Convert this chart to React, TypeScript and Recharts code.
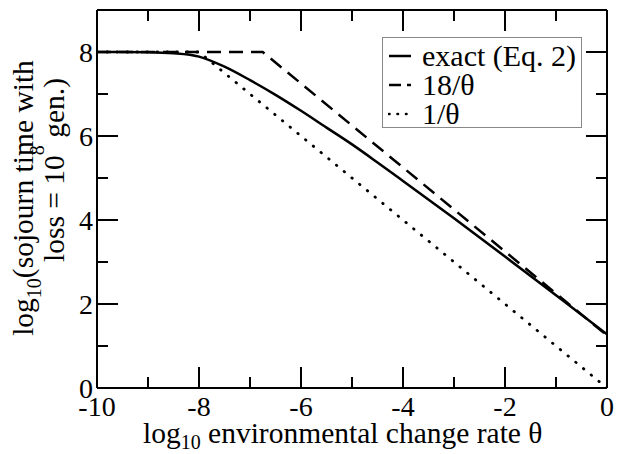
import React from 'react';
import { LineChart, Line, XAxis, YAxis, Legend } from 'recharts';

const exactX = [-10, -9.5, -9, -8.5, -8, -7.5, -7, -6.5, -6, -5.5, -5, -4.5, -4, -3, -2, -1, 0];
const exactY = [8, 8, 7.995, 7.97, 7.89, 7.65, 7.33, 6.98, 6.6, 6.2, 5.8, 5.37, 4.93, 4.04, 3.13, 2.21, 1.28];

const dashedX = [-10, -6.75, 0];
const dashedY = [8, 8, 1.25];

const dottedX = [-10, -8, 0];
const dottedY = [8, 8, 0];

const xTicks = [-10, -9, -8, -7, -6, -5, -4, -3, -2, -1, 0];
const yTicks = [0, 1, 2, 3, 4, 5, 6, 7, 8];

const legendLabels = ['exact (Eq. 2)', '18/θ', '1/θ'];

const toPoints = (xs: number[], ys: number[]) => xs.map((x, i) => ({ x, y: ys[i] }));

const exactData = toPoints(exactX, exactY);
const dashedData = toPoints(dashedX, dashedY);
const dottedData = toPoints(dottedX, dottedY);

const FONT = "'Liberation Serif', 'Times New Roman', serif";
const MAJOR = 21;
const MINOR = 11;

const BottomTick = ({ x, y, payload }: any) => {
    const major = payload.value % 2 === 0;
    return (
        <g>
            <line x1={x} x2={x} y1={y} y2={y - (major ? MAJOR : MINOR)} stroke="#000" strokeWidth={2} />
            {major && (
                <text x={x} y={y + 28} textAnchor="middle" fontFamily={FONT} fontSize={28} fill="#000">
                    {String(payload.value)}
                </text>
            )}
        </g>
    );
};

const TopTick = ({ x, y, payload }: any) => {
    const major = payload.value % 2 === 0;
    return <line x1={x} x2={x} y1={y} y2={y + (major ? MAJOR : MINOR)} stroke="#000" strokeWidth={2} />;
};

const LeftTick = ({ x, y, payload }: any) => {
    const major = payload.value % 2 === 0;
    return (
        <g>
            <line x1={x} x2={x + (major ? MAJOR : MINOR)} y1={y} y2={y} stroke="#000" strokeWidth={2} />
            {major && (
                <text x={x - 4} y={y} dy="0.35em" textAnchor="end" fontFamily={FONT} fontSize={28} fill="#000">
                    {String(payload.value)}
                </text>
            )}
        </g>
    );
};

const RightTick = ({ x, y, payload }: any) => {
    const major = payload.value % 2 === 0;
    return <line x1={x} x2={x - (major ? MAJOR : MINOR)} y1={y} y2={y} stroke="#000" strokeWidth={2} />;
};

const renderLegend = () => (
    <div
        style={{
            border: '1px solid #888',
            background: '#fff',
            width: 198,
            height: 89,
            fontFamily: FONT,
            fontSize: 30,
            color: '#000',
            position: 'relative',
        }}
    >
        {legendLabels.map((label, i) => (
            <div key={label} style={{ position: 'absolute', left: 5, top: 3 + i * 29, height: 29, display: 'flex', alignItems: 'center', whiteSpace: 'nowrap' }}>
                <svg width={24} height={10} style={{ marginRight: 10 }}>
                    <line
                        x1={1}
                        x2={23}
                        y1={5}
                        y2={5}
                        stroke="#000"
                        strokeWidth={i === 2 ? 2.6 : 2.5}
                        strokeDasharray={i === 1 ? '12 6' : i === 2 ? '0.5 8' : undefined}
                        strokeLinecap={i === 2 ? 'round' : 'butt'}
                    />
                </svg>
                <span style={{ lineHeight: '29px' }}>{label}</span>
            </div>
        ))}
    </div>
);

const axisLine = { stroke: '#000', strokeWidth: 2 };

const App: React.FC = () => {
    return (
        <div style={{ position: 'absolute', left: 0, top: 0, width: 624, height: 454, background: '#fff' }}>
            <LineChart width={624} height={454} margin={{ top: 9, right: 16, bottom: 65, left: 96 }}>
                <XAxis dataKey="x" type="number" domain={[-10, 0]} ticks={xTicks} height={1} tickSize={0} tickMargin={0}
                    tickLine={false} tick={<BottomTick />} axisLine={axisLine} allowDataOverflow interval={0} />
                <XAxis xAxisId="top" orientation="top" dataKey="x" type="number" domain={[-10, 0]} ticks={xTicks} height={1}
                    tickSize={0} tickMargin={0} tickLine={false} tick={<TopTick />} axisLine={axisLine} allowDataOverflow interval={0} />
                <YAxis type="number" domain={[0, 9]} ticks={yTicks} width={1} tickSize={0} tickMargin={0}
                    tickLine={false} tick={<LeftTick />} axisLine={axisLine} allowDataOverflow interval={0} />
                <YAxis yAxisId="right" orientation="right" type="number" domain={[0, 9]} ticks={yTicks} width={1}
                    tickSize={0} tickMargin={0} tickLine={false} tick={<RightTick />} axisLine={axisLine} allowDataOverflow interval={0} />
                <Line data={dottedData} dataKey="y" name="1/θ" type="linear" stroke="#000" strokeWidth={2.8}
                    strokeDasharray="0.5 9.5" strokeLinecap="round" dot={false} isAnimationActive={false} />
                <Line data={dashedData} dataKey="y" name="18/θ" type="linear" stroke="#000" strokeWidth={2.5}
                    strokeDasharray="14 8" dot={false} isAnimationActive={false} />
                <Line data={exactData} dataKey="y" name="exact (Eq. 2)" type="monotone" stroke="#000" strokeWidth={2.5}
                    dot={false} isAnimationActive={false} />
                <Legend
                    layout="horizontal"
                    verticalAlign="middle"
                    align="center"
                    content={renderLegend}
                    wrapperStyle={{ position: 'absolute', left: 382, top: 37, width: 200, height: 91 }}
                />
            </LineChart>
            <svg width={624} height={454} style={{ position: 'absolute', left: 0, top: 0, pointerEvents: 'none' }}>
                <text x={143} y={443} fontFamily={FONT} fontSize={29.5} fill="#000">
                    log
                    <tspan fontSize={20} dy={6}>10</tspan>
                    <tspan dy={-6}> environmental change rate θ</tspan>
                </text>
                <text transform="translate(33,198) rotate(-90)" textAnchor="middle" fontFamily={FONT} fontSize={29.5} fill="#000">
                    log
                    <tspan fontSize={20} dy={8}>10</tspan>
                    <tspan dy={-8}>(sojourn time with</tspan>
                </text>
                <text transform="translate(64,170) rotate(-90)" textAnchor="middle" fontFamily={FONT} fontSize={29.5} fill="#000">
                    loss = 10
                    <tspan fontSize={20} dy={-20}>8</tspan>
                    <tspan dy={20}> gen.)</tspan>
                </text>
            </svg>
        </div>
    );
};

export default App;
